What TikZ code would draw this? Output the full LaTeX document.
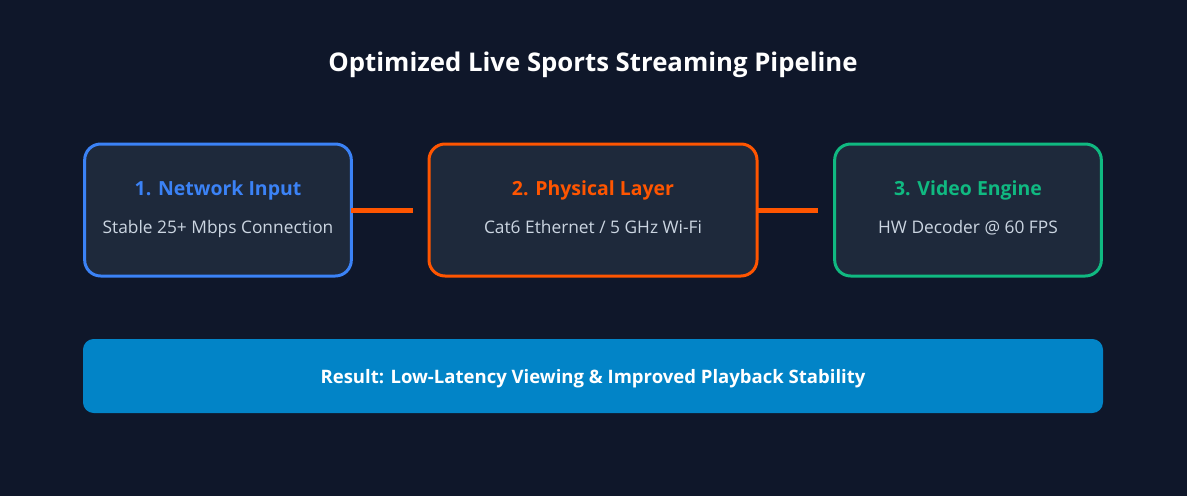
\documentclass[tikz,border=0pt]{standalone}
\usepackage{fontspec}
\setmainfont{Open Sans}
\usepackage{tikz}
\definecolor{cBack}{HTML}{0F172A}
\definecolor{cCard}{HTML}{1E293B}
\definecolor{cNet}{HTML}{3B82F6}
\definecolor{cPhys}{HTML}{FF5500}
\definecolor{cVideo}{HTML}{10B981}
\definecolor{cResult}{HTML}{0284C7}
\definecolor{cSub}{HTML}{CBD5E1}
\tikzset{
  stage/.style={line width=2.25pt, fill=cCard, rounded corners=12pt,
    minimum height=99pt, outer sep=0pt},
  stagetitle/.style={font=\fontsize{14.6}{17}\selectfont\bfseries, text depth=0pt},
  stagesub/.style={text=cSub, font=\fontsize{13}{15}\selectfont, text depth=0pt},
  link/.style={cPhys, line width=3.75pt}
}

\begin{document}
\begin{tikzpicture}[x=0.75pt, y=-0.75pt]

  % ---- background ----
  \fill[cBack] (0,0) rectangle (1187,496);
  \useasboundingbox (0,0) rectangle (1187,496);

  % ---- title ----
  \node[white, font=\fontsize{19.3}{23}\selectfont\bfseries, text depth=0pt]
    (title) at (593,62) {Optimized Live Sports Streaming Pipeline};

  % ---- stage boxes (centres in px, y=210) ----
  \node[stage, draw=cNet, minimum width=200pt] (net) at (218,210) {};
  \node[stagetitle, text=cNet] (netT) at (218,188) {1. Network Input};
  \node[stagesub] (netS) at (218,227) {Stable 25+ Mbps Connection};

  \node[stage, draw=cPhys, minimum width=246pt] (phys) at (593,210) {};
  \node[stagetitle, text=cPhys] (physT) at (593,188) {2. Physical Layer};
  \node[stagesub] (physS) at (593,227) {Cat6 Ethernet / 5 GHz Wi-Fi};

  \node[stage, draw=cVideo, minimum width=200pt] (vid) at (968,210) {};
  \node[stagetitle, text=cVideo] (vidT) at (968,188) {3. Video Engine};
  \node[stagesub] (vidS) at (968,227) {HW Decoder @ 60 FPS};

  % ---- links (stop short of next box) ----
  \coordinate (linkA) at (413,210);
  \coordinate (linkB) at (818,210);
  \draw[link] (net.east) -- (linkA);
  \draw[link] (phys.east) -- (linkB);

  % ---- result bar ----
  \node[fill=cResult, rounded corners=8pt, minimum width=765pt,
    minimum height=55.5pt, text=white, text depth=0pt,
    font=\fontsize{13.9}{16}\selectfont\bfseries]
    (result) at (593,376) {Result: Low-Latency Viewing \& Improved Playback Stability};

\end{tikzpicture}
\end{document}
